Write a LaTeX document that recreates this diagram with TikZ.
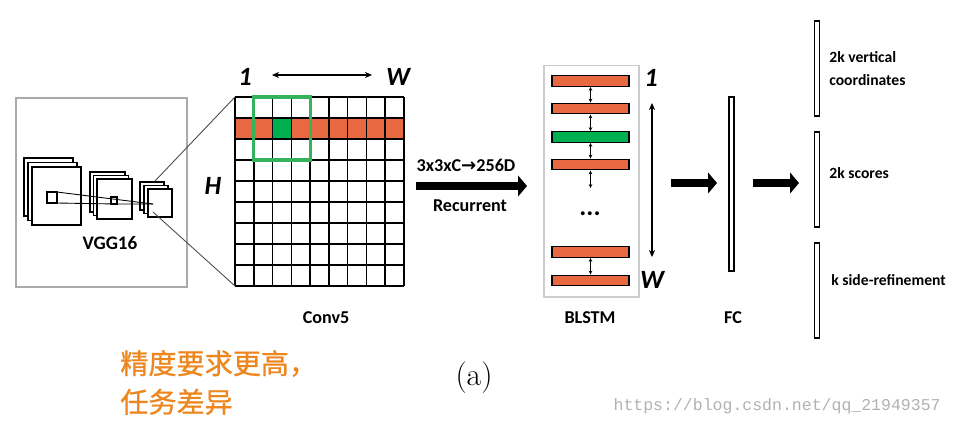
\documentclass[tikz,border=0pt]{standalone}
\usepackage{fontspec}
\usepackage{tikz}
\usetikzlibrary{arrows.meta,positioning}
\newfontfamily\labelfont{Carlito}
\newfontfamily\cjkfont[BoldFont={Noto Sans CJK SC}, BoldFeatures={FakeBold=0.8}]{Noto Sans CJK SC}
\newfontfamily\symbolfont{DejaVu Sans}
\newfontfamily\markfont{Liberation Mono}
\definecolor{ctpnOrange}{RGB}{232,104,66}
\definecolor{ctpnGreen}{RGB}{0,176,80}
\definecolor{ctpnBoxGreen}{RGB}{52,178,92}
\definecolor{ctpnNote}{RGB}{238,134,30}
\definecolor{ctpnFrame}{RGB}{170,170,170}
\definecolor{ctpnLight}{RGB}{205,205,205}

\begin{document}
\begin{tikzpicture}[x=0.02cm, y=-0.02cm,
  lab/.style={font=\labelfont\bfseries\fontsize{10.3}{12}\selectfont, inner sep=0},
  outlab/.style={font=\labelfont\bfseries\fontsize{8.9}{13}\selectfont, inner sep=0, anchor=west, align=left},
  idx/.style={font=\labelfont\bfseries\itshape\fontsize{15}{18}\selectfont, inner sep=0},
  layer/.style={draw, fill=white, line width=0.85pt},
  lstmbar/.style={draw, line width=0.8pt, minimum width=1.54cm, minimum height=0.21cm, inner sep=0, fill=ctpnOrange},
  slab/.style={draw, fill=white, line width=0.8pt, minimum width=0.11cm, inner sep=0},
  bigarrow/.style={line width=4.6pt, -{Triangle[length=5pt,width=11.5pt]}},
  twoway/.style={{Stealth[length=4pt,width=3.5pt]}-{Stealth[length=4pt,width=3.5pt]}, line width=0.8pt},
  tinyway/.style={{Stealth[length=2.2pt,width=2pt]}-{Stealth[length=2.2pt,width=2pt]}, line width=0.5pt}]
\useasboundingbox[fill=white] (0,0) rectangle (953,427);

% VGG16 backbone
\node[draw=ctpnFrame, line width=0.6pt, minimum width=3.42cm, minimum height=3.78cm] (vggbox) at (101.5,192.5) {};
\foreach \k in {2,1,0} \draw[layer] ({32-4*\k},{167-4.5*\k}) rectangle ++(49,58);
\foreach \k in {2,1,0} \draw[layer] ({97-3.5*\k},{179-3.5*\k}) rectangle ++(35,40);
\foreach \k in {2,1,0} \draw[layer] ({148-4*\k},{189-3.5*\k}) rectangle ++(24,28);
\draw[line width=0.8pt] (47,192) rectangle (57,203);
\draw[line width=0.8pt] (111,197) rectangle (117,204);
\coordinate (rfTop) at (57,192);
\coordinate (rfBot) at (57,203);
\coordinate (rfMid) at (117,204);
\coordinate (rfEnd) at (153,204);
\draw[line width=0.5pt] (rfTop) -- (rfEnd);
\draw[line width=0.5pt] (rfBot) -- (rfMid) -- (rfEnd);
\node[lab, font=\labelfont\bfseries\fontsize{10.9}{12}\selectfont] (vgglab) at (110,243) {VGG16};

% conv5 feature map
\fill[ctpnOrange] (235,118) rectangle (404,139);
\fill[ctpnGreen] (272.6,118) rectangle (291.3,139);
\foreach \i in {0,...,9} \draw[line width=0.9pt] ({235+\i*18.78},97) -- ++(0,189);
\foreach \j in {0,...,9} \draw[line width=0.9pt] (235,{97+\j*21}) -- ++(169,0);
\draw[ctpnBoxGreen, line width=1.8pt] (253.8,97) rectangle (310.1,160);
\coordinate (convNW) at (235,97);
\coordinate (convSW) at (235,286);
\coordinate (zoomTop) at (155,181);
\coordinate (zoomBot) at (153,212);
\draw[black!70, line width=0.5pt] (zoomTop) -- (convNW);
\draw[black!70, line width=0.5pt] (zoomBot) -- (convSW);
\node[idx] (colone) at (245,77) {1};
\node[idx] (colw) at (398,77) {W};
\coordinate (wideL) at (272,75);
\coordinate (wideR) at (372,75);
\draw[twoway] (wideL) -- (wideR);
\node[idx] (rowh) at (213,186) {H};
\node[lab] (convlab) at (326,318) {Conv5};

% sliding window into BLSTM
\coordinate (recS) at (416,186);
\coordinate (recE) at (527,186);
\draw[bigarrow] (recS) -- (recE);
\node[lab] (reclab) at (466,165) {3x3xC{\symbolfont\bfseries →}256D};
\node[lab] (rectype) at (470,206) {Recurrent};

% BLSTM
\node[draw=ctpnLight, line width=0.6pt, minimum width=1.9cm, minimum height=4.64cm] (lstmbox) at (591.5,181) {};
\node[lstmbar] (bar1) at (590.5,81) {};
\node[lstmbar] (bar2) at (590.5,108.5) {};
\node[lstmbar, fill=ctpnGreen] (bar3) at (590.5,137) {};
\node[lstmbar] (bar4) at (590.5,164.5) {};
\node[lstmbar] (bar5) at (590.5,252) {};
\node[lstmbar] (bar6) at (590.5,280.5) {};
\draw[tinyway] (bar1) -- (bar2);
\draw[tinyway] (bar2) -- (bar3);
\draw[tinyway] (bar3) -- (bar4);
\coordinate (gapEnd) at (590.5,188);
\draw[tinyway] (bar4) -- (gapEnd);
\draw[tinyway] (bar5) -- (bar6);
\node[lab, font=\labelfont\bfseries\fontsize{15}{16}\selectfont] (dots) at (590,214) {...};
\node[lab] (lstmlab) at (590,318) {BLSTM};
\node[idx] (seqone) at (651,78) {1};
\node[idx] (seqw) at (652,280) {W};
\coordinate (seqT) at (652,103);
\coordinate (seqB) at (652,257);
\draw[twoway] (seqT) -- (seqB);

% FC and outputs
\coordinate (fcS) at (671,183);
\coordinate (fcE) at (717,183);
\draw[bigarrow] (fcS) -- (fcE);
\node[slab, minimum width=0.1cm, minimum height=3.48cm] (fc) at (731.5,184) {};
\node[lab] (fclab) at (733,318) {FC};
\coordinate (outS) at (753,183);
\coordinate (outE) at (799,183);
\draw[bigarrow] (outS) -- (outE);
\node[slab, minimum height=1.9cm] (outv) at (817,68.5) {};
\node[slab, minimum height=1.9cm] (outs) at (817,179.5) {};
\node[slab, minimum height=1.9cm] (outk) at (817,290.5) {};
\node[outlab] (vlab) at (829,68.5) {2k vertical\\coordinates};
\node[outlab] (slab) at (829,173) {2k scores};
\node[outlab] (klab) at (831,280) {k side-refinement};

% notes
\node[anchor=west, align=left, inner sep=0, text=ctpnNote, font=\cjkfont\bfseries\fontsize{16}{22}\selectfont] (note) at (120,382.5) {精度要求更高，\\任务差异};
\node[inner sep=0, font=\fontsize{18}{20}\selectfont] (caption) at (474,378) {(a)};
\node[anchor=east, inner sep=0, text=black!30, font=\markfont\fontsize{9.4}{11}\selectfont] (mark) at (941,406) {https://blog.csdn.net/qq\_21949357};
\end{tikzpicture}
\end{document}
